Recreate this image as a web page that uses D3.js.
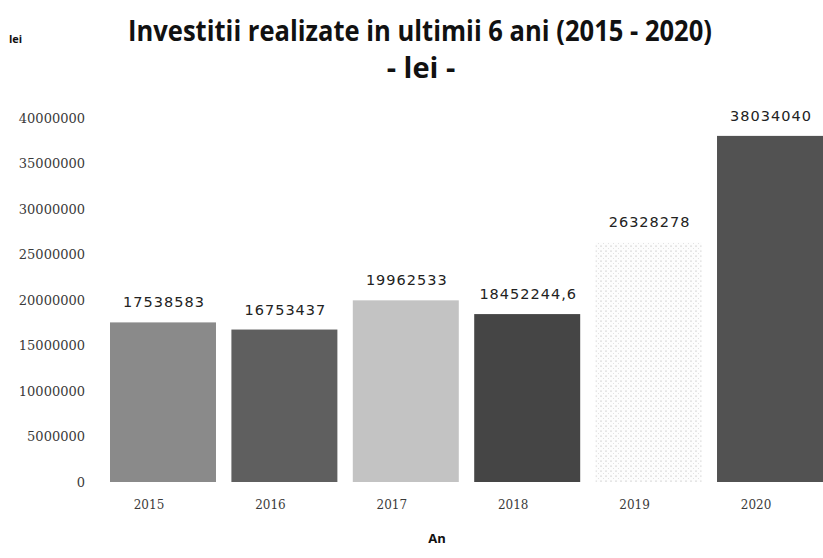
<!DOCTYPE html>
<meta charset="utf-8">
<style>
body { margin: 0; background: #fff; font-family: "Open Sans", sans-serif; }
.title { font-weight: bold; fill: #111; }
.yaxis .tick text { font-family: "DejaVu Serif", serif; font-size: 13px; fill: #3a3a3a; }
.xaxis .tick text { font-family: "DejaVu Serif", serif; font-size: 12px; fill: #3a3a3a; }
.val { font-family: "DejaVu Sans", sans-serif; font-size: 14.5px; letter-spacing: 1px; fill: #222; }
</style>
<body>
<div id="chart"></div>
<script src="https://d3js.org/d3.v7.min.js"></script>
<script>
var years = ["2015", "2016", "2017", "2018", "2019", "2020"];
var values = [17538583, 16753437, 19962533, 18452244.6, 26328278, 38034040];
var valueLabels = ["17538583", "16753437", "19962533", "18452244,6", "26328278", "38034040"];
var yTicks = [0, 5000000, 10000000, 15000000, 20000000, 25000000, 30000000, 35000000, 40000000];
var fills = ["#8a8a8a", "#5f5f5f", "#c3c3c3", "#454545", "url(#dots)", "#525252"];

var width = 823, height = 558;
var margin = {top: 118, right: 0, bottom: 76, left: 110};

var svg = d3.select("#chart").append("svg")
    .attr("width", width)
    .attr("height", height);

// dotted fill for 2019
var pat = svg.append("defs").append("pattern")
    .attr("id", "dots")
    .attr("width", 5).attr("height", 5)
    .attr("patternUnits", "userSpaceOnUse");
pat.append("rect").attr("width", 5).attr("height", 5).attr("fill", "#fdfdfd");
pat.append("circle").attr("cx", 1).attr("cy", 1).attr("r", 0.6).attr("fill", "#a8a8a8");
pat.append("circle").attr("cx", 3.5).attr("cy", 3.5).attr("r", 0.45).attr("fill", "#c8c8c8");

var x = d3.scaleBand()
    .domain(years)
    .range([margin.left, width - margin.right])
    .paddingInner(0.127)
    .paddingOuter(0);

var y = d3.scaleLinear()
    .domain([0, 40000000])
    .range([height - margin.bottom, margin.top]);

svg.append("g")
    .attr("class", "yaxis")
    .attr("transform", "translate(88,0)")
    .call(d3.axisLeft(y).tickValues(yTicks).tickSize(0).tickFormat(d3.format("d")))
    .call(function(g) { g.select(".domain").remove(); });

svg.append("g")
    .attr("class", "xaxis")
    .attr("transform", "translate(-14," + (height - margin.bottom + 15) + ")")
    .call(d3.axisBottom(x).tickSize(0))
    .call(function(g) { g.select(".domain").remove(); });

svg.selectAll(".bar")
    .data(values)
  .enter().append("rect")
    .attr("class", "bar")
    .attr("x", function(d, i) { return x(years[i]); })
    .attr("y", function(d) { return y(d); })
    .attr("width", x.bandwidth())
    .attr("height", function(d) { return y(0) - y(d); })
    .attr("fill", function(d, i) { return fills[i]; });

svg.selectAll(".val")
    .data(values)
  .enter().append("text")
    .attr("class", "val")
    .attr("text-anchor", "middle")
    .attr("x", function(d, i) { return x(years[i]) + x.bandwidth() / 2 + 1; })
    .attr("y", function(d) { return y(d) - 15; })
    .text(function(d, i) { return valueLabels[i]; });

svg.append("text")
    .attr("class", "title")
    .attr("x", 128).attr("y", 41)
    .attr("textLength", 584)
    .attr("lengthAdjust", "spacingAndGlyphs")
    .style("font-size", "29px")
    .text("Investitii realizate in ultimii 6 ani (2015 - 2020)");

svg.append("text")
    .attr("class", "title")
    .attr("x", 421).attr("y", 78)
    .attr("text-anchor", "middle")
    .style("font-size", "29px")
    .text("- lei -");

svg.append("text")
    .attr("class", "title")
    .attr("x", 9).attr("y", 43)
    .style("font-size", "11px")
    .text("lei");

svg.append("text")
    .attr("class", "title")
    .attr("x", 437).attr("y", 543)
    .attr("text-anchor", "middle")
    .style("font-size", "13px")
    .text("An");
</script>
</body>
